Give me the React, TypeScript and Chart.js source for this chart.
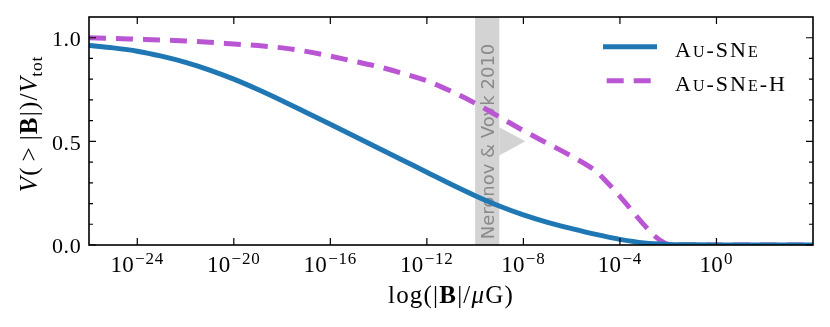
import { useEffect, useRef } from "react";
import { Chart, registerables } from "chart.js";

Chart.register(...registerables);

const W = 830;
const H = 327;

// ---- data ----
const seriesNames = ["Au-SNe", "Au-SNe-H"];

const blueX = [
  1e-26, 1e-25, 1e-24, 1e-23, 1e-22, 1e-21, 1e-20, 1e-19, 1e-18, 1e-17, 1e-16,
  1e-15, 1e-14, 1e-13, 1e-12, 1e-11, 1e-10, 1e-9, 1e-8, 1e-7, 1e-6, 1e-5, 1e-4,
  1e-3, 1e-2, 1e-1, 1, 1e4,
];
const blueY = [
  0.963, 0.951, 0.935, 0.911, 0.881, 0.844, 0.8, 0.75, 0.696, 0.639, 0.582,
  0.525, 0.467, 0.409, 0.351, 0.293, 0.238, 0.188, 0.145, 0.109, 0.079, 0.051,
  0.027, 0.01, 0.003, 0.001, 0, 0,
];

const purpleX = [
  1e-26, 1e-25, 1e-24, 1e-23, 1e-22, 1e-21, 1e-20, 1e-19, 1e-18, 1e-17, 1e-16,
  1e-15, 1e-14, 1e-13, 1e-12, 1e-11, 1e-10, 1e-9, 1e-8, 1e-7, 1e-6, 1e-5,
  3.2e-5, 1e-4, 3.2e-4, 1e-3, 3.2e-3, 1e-2, 3.2e-2, 1e4,
];
const purpleY = [
  1.0, 0.997, 0.993, 0.989, 0.984, 0.978, 0.97, 0.962, 0.951, 0.934, 0.911,
  0.886, 0.86, 0.828, 0.792, 0.742, 0.684, 0.618, 0.552, 0.49, 0.428, 0.356,
  0.298, 0.235, 0.165, 0.097, 0.037, 0.004, 0, 0,
];

const xTickValues = [1e-24, 1e-20, 1e-16, 1e-12, 1e-8, 1e-4, 1];
const xTickExponents = ["−24", "−20", "−16", "−12", "−8", "−4", "0"];
const yMajorTicks = [0, 0.5, 1.0];
const yTickLabels = ["0.0", "0.5", "1.0"];
const yMinorTicks = [0.1, 0.2, 0.3, 0.4, 0.6, 0.7, 0.8, 0.9];

const bandRange = [1e-10, 1e-9];
const bandText = "Neronov & Vovk 2010";
const arrowTipX = 1.2e-8;
const arrowY = 0.5;
const arrowHalf = 0.068;

const X_MIN = 1e-26;
const X_MAX = 1e4;
const Y_MIN = 0;
const Y_MAX = 1.1;

// ---- styles ----
const BLUE = "#1f77b4";
const PURPLE = "#ba55d3";
const LW = 5;
const SERIF = '"Liberation Serif", "Times New Roman", serif';
const font = (size: number, style = "", weight = "") =>
  `${style} ${weight} ${size}px ${SERIF}`.replace(/\s+/g, " ").trim();

type Run = { t: string; font: string; dy?: number; sp?: number; pre?: number };

function runsWidth(ctx: CanvasRenderingContext2D, runs: Run[]) {
  let w = 0;
  for (const r of runs) {
    ctx.font = r.font;
    w += r.pre || 0;
    for (const ch of r.t) w += ctx.measureText(ch).width + (r.sp || 0);
  }
  return w;
}

function drawRuns(ctx: CanvasRenderingContext2D, runs: Run[], x: number, y: number) {
  let cx = x;
  for (const r of runs) {
    ctx.font = r.font;
    cx += r.pre || 0;
    for (const ch of r.t) {
      ctx.fillText(ch, cx, y + (r.dy || 0));
      cx += ctx.measureText(ch).width + (r.sp || 0);
    }
  }
}

const decorPlugin = {
  id: "decor",
  beforeDatasetsDraw(chart: any) {
    const { ctx, chartArea: a, scales } = chart;
    const x = scales.x;
    const y = scales.y;
    ctx.save();
    ctx.beginPath();
    ctx.rect(a.left, a.top, a.right - a.left, a.bottom - a.top);
    ctx.clip();
    const x0 = x.getPixelForValue(bandRange[0]);
    const x1 = x.getPixelForValue(bandRange[1]);
    ctx.fillStyle = "#d3d3d3";
    ctx.fillRect(x0, a.top, x1 - x0, a.bottom - a.top);
    // arrow head
    ctx.beginPath();
    ctx.moveTo(x1, y.getPixelForValue(arrowY + arrowHalf));
    ctx.lineTo(x.getPixelForValue(arrowTipX), y.getPixelForValue(arrowY));
    ctx.lineTo(x1, y.getPixelForValue(arrowY - arrowHalf));
    ctx.closePath();
    ctx.fill();
    // rotated text
    ctx.translate((x0 + x1) / 2 + 7, a.top + 124.5);
    ctx.rotate(-Math.PI / 2);
    ctx.fillStyle = "#8a8a8a";
    ctx.font = '18px "DejaVu Sans", sans-serif';
    ctx.textAlign = "center";
    ctx.textBaseline = "alphabetic";
    ctx.fillText(bandText, 0, 0);
    ctx.restore();
  },
  afterDraw(chart: any) {
    const { ctx, chartArea: a, scales } = chart;
    const x = scales.x;
    const y = scales.y;
    ctx.save();
    // frame
    ctx.strokeStyle = "#000";
    ctx.lineWidth = 1.6;
    ctx.strokeRect(a.left, a.top, a.right - a.left, a.bottom - a.top);
    // ticks
    ctx.lineWidth = 1.2;
    ctx.beginPath();
    for (const v of xTickValues) {
      const px = x.getPixelForValue(v);
      ctx.moveTo(px, a.bottom);
      ctx.lineTo(px, a.bottom - 7);
      ctx.moveTo(px, a.top);
      ctx.lineTo(px, a.top + 7);
    }
    for (const v of yMajorTicks) {
      const py = y.getPixelForValue(v);
      ctx.moveTo(a.left, py);
      ctx.lineTo(a.left + 7, py);
      ctx.moveTo(a.right, py);
      ctx.lineTo(a.right - 7, py);
    }
    for (const v of yMinorTicks) {
      const py = y.getPixelForValue(v);
      ctx.moveTo(a.left, py);
      ctx.lineTo(a.left + 4, py);
      ctx.moveTo(a.right, py);
      ctx.lineTo(a.right - 4, py);
    }
    ctx.stroke();

    ctx.fillStyle = "#000";
    ctx.textBaseline = "alphabetic";
    ctx.textAlign = "left";
    // x tick labels
    xTickValues.forEach((v, i) => {
      const px = x.getPixelForValue(v);
      const runs: Run[] = [
        { t: "10", font: font(23), sp: 0.3 },
        { t: xTickExponents[i], font: font(17), dy: -8, pre: 1, sp: 0.8 },
      ];
      const w = runsWidth(ctx, runs);
      drawRuns(ctx, runs, px - w / 2, a.bottom + 27);
    });
    // y tick labels
    yMajorTicks.forEach((v, i) => {
      const py = y.getPixelForValue(v);
      const runs: Run[] = [{ t: yTickLabels[i], font: font(22), sp: 0.7 }];
      const w = runsWidth(ctx, runs);
      drawRuns(ctx, runs, a.left - 7.5 - w, py + 8.4);
    });
    // x axis label
    {
      const runs: Run[] = [
        { t: "log(|", font: font(25), sp: 1.2 },
        { t: "B", font: font(25, "", "bold"), sp: 1.2 },
        { t: "|/", font: font(25), sp: 1.2 },
        { t: "μ", font: font(25, "italic"), sp: 1.2 },
        { t: "G)", font: font(25), sp: 1.2 },
      ];
      const w = runsWidth(ctx, runs);
      drawRuns(ctx, runs, (a.left + a.right) / 2 - w / 2, a.bottom + 58);
    }
    // y axis label
    {
      const runs: Run[] = [
        { t: "V", font: font(25, "italic"), sp: 1.2 },
        { t: "(", font: font(25), sp: 1 },
        { t: ">", font: font(25), sp: 1, pre: 5 },
        { t: "|", font: font(25), sp: 1.2, pre: 6 },
        { t: "B", font: font(25, "", "bold"), sp: 1.2 },
        { t: "|)/", font: font(25), sp: 1.2 },
        { t: "V", font: font(25, "italic"), sp: 0.5 },
        { t: "tot", font: font(17.5), dy: 5, sp: 0.8 },
      ];
      const w = runsWidth(ctx, runs);
      ctx.save();
      ctx.translate(36.5, a.top + 107);
      ctx.rotate(-Math.PI / 2);
      drawRuns(ctx, runs, -w / 2, 0);
      ctx.restore();
    }
    // legend
    const lx0 = a.right - 210;
    const lx1 = a.right - 156;
    const rows = [a.top + 29.7, a.top + 63.7];
    ctx.lineCap = "butt";
    ctx.lineWidth = LW;
    ctx.strokeStyle = BLUE;
    ctx.setLineDash([]);
    ctx.beginPath();
    ctx.moveTo(lx0, rows[0]);
    ctx.lineTo(lx1, rows[0]);
    ctx.stroke();
    ctx.strokeStyle = PURPLE;
    ctx.setLineDash([17, 10]);
    ctx.lineDashOffset = -3.7;
    ctx.beginPath();
    ctx.moveTo(lx0, rows[1]);
    ctx.lineTo(lx1, rows[1]);
    ctx.stroke();
    ctx.setLineDash([]);
    ctx.fillStyle = "#000";
    const big = font(22);
    const small = font(16);
    const legendRuns: Run[][] = [
      [
        { t: "A", font: big, sp: 2 },
        { t: "U", font: small, sp: 2 },
        { t: "-SN", font: big, sp: 2 },
        { t: "E", font: small, sp: 2 },
      ],
      [
        { t: "A", font: big, sp: 2 },
        { t: "U", font: small, sp: 2 },
        { t: "-SN", font: big, sp: 2 },
        { t: "E", font: small, sp: 2 },
        { t: "-H", font: big, sp: 2 },
      ],
    ];
    legendRuns.forEach((runs, i) => drawRuns(ctx, runs, a.right - 138, rows[i] + 9.8));
    ctx.restore();
  },
};

export default function App() {
  const ref = useRef<HTMLCanvasElement>(null);
  useEffect(() => {
    const canvas = ref.current;
    if (!canvas) return;
    const chart = new Chart(canvas, {
      type: "line",
      data: {
        datasets: [
          {
            label: seriesNames[0],
            data: blueX.map((v, i) => ({ x: v, y: blueY[i] })),
            borderColor: BLUE,
            borderWidth: LW,
            pointRadius: 0,
            fill: false,
            cubicInterpolationMode: "monotone",
          },
          {
            label: seriesNames[1],
            data: purpleX.map((v, i) => ({ x: v, y: purpleY[i] })),
            borderColor: PURPLE,
            borderWidth: LW,
            borderDash: [17, 10],
            borderCapStyle: "butt",
            pointRadius: 0,
            fill: false,
            cubicInterpolationMode: "monotone",
          },
        ],
      },
      options: {
        responsive: false,
        animation: false,
        events: [],
        layout: { padding: { left: 89, right: 17, top: 17, bottom: 82 } },
        scales: {
          x: { type: "logarithmic", min: X_MIN, max: X_MAX, display: false },
          y: { type: "linear", min: Y_MIN, max: Y_MAX, display: false },
        },
        plugins: { legend: { display: false }, tooltip: { enabled: false } },
      },
      plugins: [decorPlugin],
    } as any);
    return () => chart.destroy();
  }, []);
  return (
    <div style={{ position: "absolute", left: 0, top: 0, width: W, height: H, background: "#fff" }}>
      <canvas ref={ref} width={W} height={H} style={{ display: "block", width: W, height: H }} />
    </div>
  );
}
